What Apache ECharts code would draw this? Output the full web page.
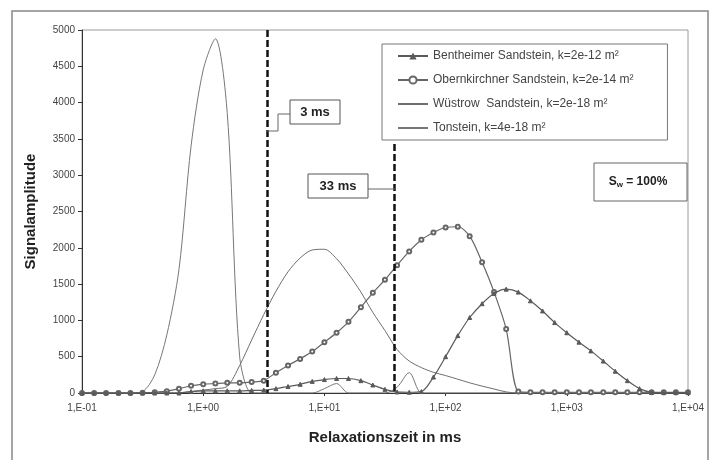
<!DOCTYPE html>
<html>
<head>
<meta charset="utf-8">
<script src="https://cdn.jsdelivr.net/npm/echarts@6/dist/echarts.min.js"></script>
<style>
  html, body { margin: 0; padding: 0; background: #fff; }
  #chart { width: 715px; height: 460px; }
</style>
</head>
<body>
<div id="chart"></div>
<script>
// Relaxationszeit (ms), 10 Punkte pro Dekade
var t2 = [
  0.1, 0.126, 0.158, 0.2, 0.251, 0.316, 0.398, 0.501, 0.631, 0.794,
  1, 1.26, 1.58, 2, 2.51, 3.16, 3.98, 5.01, 6.31, 7.94,
  10, 12.6, 15.8, 20, 25.1, 31.6, 39.8, 50.1, 63.1, 79.4,
  100, 126, 158, 200, 251, 316, 398, 501, 631, 794,
  1000, 1260, 1580, 2000, 2510, 3160, 3980, 5010, 6310, 7940,
  10000
];

var bentheimer = [
  0, 0, 0, 0, 0, 0, 0, 0, 0, 20,
  30, 30, 30, 30, 35, 40, 60, 90, 120, 160,
  185, 200, 200, 170, 110, 50, 15, 10, 20, 220,
  500, 790, 1040, 1230, 1370, 1430, 1390, 1270, 1130, 970,
  830, 700, 580, 440, 300, 170, 60, 10, 5, 5,
  5
];

var obernkirchner = [
  0, 0, 0, 0, 0, 5, 10, 25, 60, 100,
  120, 130, 140, 140, 150, 170, 280, 380, 470, 570,
  700, 830, 980, 1180, 1380, 1560, 1760, 1950, 2110, 2210,
  2280, 2290, 2160, 1800, 1390, 880, 20, 10, 10, 10,
  10, 10, 10, 10, 10, 10, 10, 10, 10, 10,
  10
];

var wuestrow = [
  0, 0, 0, 0, 0, 0, 0, 0, 0, 20,
  40, 60, 90, 380, 730, 1080, 1400, 1670, 1860, 1970,
  1980, 1850, 1640, 1390, 1110, 860, 600, 440, 350, 285,
  240, 190, 140, 95, 55, 15, 0, 0, 0, 0,
  0, 0, 0, 0, 0, 0, 0, 0, 0, 0,
  0
];

var tonstein = [
  0, 0, 0, 0, 0, 20, 250, 800, 1700, 3400,
  4450, 4880, 3850, 500, 0, 0, 0, 0, 0, 0,
  60, 130, 0, 0, 0, 0, 80, 280, 0, 0,
  0, 0, 0, 0, 0, 0, 0, 0, 0, 0,
  0, 0, 0, 0, 0, 0, 0, 0, 0, 0,
  0
];

var seriesNames = [
  'Bentheimer Sandstein, k=2e-12 m²',
  'Obernkirchner Sandstein, k=2e-14 m²',
  'Wüstrow  Sandstein, k=2e-18 m²',
  'Tonstein, k=4e-18 m²'
];

var xTickLabels = ['1,E-01', '1,E+00', '1,E+01', '1,E+02', '1,E+03', '1,E+04'];

// Lage der gestrichelten Linien (ms) und ihr oberes Ende (Signal)
var markTimes = [3.4, 38];
var markTops = [5000, 3430];

var FONT = 'Liberation Sans, Arial, sans-serif';

function pairs(arr) {
  return t2.map(function(t, i) { return [t, arr[i]]; });
}

var chart = echarts.init(document.getElementById('chart'), null, { renderer: 'canvas' });

var option = {
  animation: false,
  backgroundColor: '#fff',
  textStyle: { fontFamily: FONT },
  grid: {
    left: 82, right: 27, top: 30, bottom: 67,
    show: true, borderColor: '#9a9a9a', borderWidth: 1
  },
  legend: {
    orient: 'vertical',
    left: 382, top: 44,
    padding: [6, 34, 6, 15],
    itemGap: 12,
    itemWidth: 30, itemHeight: 9,
    borderColor: '#777', borderWidth: 1,
    backgroundColor: '#fff',
    textStyle: { fontSize: 12, color: '#444', fontFamily: FONT },
    data: [
      { name: seriesNames[0] },
      { name: seriesNames[1] },
      // nur Linie, kein Symbol
      { name: seriesNames[2], itemStyle: { opacity: 0 } },
      { name: seriesNames[3], itemStyle: { opacity: 0 } }
    ]
  },
  xAxis: {
    type: 'log',
    logBase: 10,
    min: 0.1, max: 10000,
    name: 'Relaxationszeit in ms',
    nameLocation: 'middle',
    nameGap: 37,
    nameTextStyle: { fontSize: 15, fontWeight: 'bold', color: '#222', fontFamily: FONT },
    axisLine: { lineStyle: { color: '#333', width: 1 } },
    axisTick: { show: true, length: 3, lineStyle: { color: '#333' } },
    splitLine: { show: false },
    axisLabel: {
      fontSize: 10, color: '#444', margin: 10,
      formatter: function(v) {
        return xTickLabels[Math.round(Math.log10(v)) + 1];
      }
    }
  },
  yAxis: {
    type: 'value',
    min: 0, max: 5000, interval: 500,
    name: 'Signalamplitude',
    nameLocation: 'middle',
    nameGap: 44,
    nameRotate: 90,
    nameTextStyle: { fontSize: 15, fontWeight: 'bold', color: '#222', fontFamily: FONT },
    axisLine: { show: true, lineStyle: { color: '#333', width: 1 } },
    axisTick: { show: true, length: 4, lineStyle: { color: '#333' } },
    splitLine: { show: false },
    axisLabel: {
      fontSize: 10, color: '#444', margin: 7,
      formatter: function(v) { return String(v); }
    }
  },
  series: [
    {
      name: seriesNames[0],
      type: 'line',
      data: pairs(bentheimer),
      smooth: 0.3,
      symbol: 'triangle',
      symbolSize: 4,
      showAllSymbol: true,
      lineStyle: { color: '#5a5a5a', width: 1.2 },
      itemStyle: { color: '#5a5a5a', borderColor: '#5a5a5a' },
      z: 4
    },
    {
      name: seriesNames[1],
      type: 'line',
      data: pairs(obernkirchner),
      smooth: 0.3,
      symbol: 'emptyCircle',
      symbolSize: 4,
      showAllSymbol: true,
      lineStyle: { color: '#666', width: 1.2 },
      itemStyle: { color: '#666', borderColor: '#666', borderWidth: 1 },
      z: 3
    },
    {
      name: seriesNames[2],
      type: 'line',
      data: pairs(wuestrow),
      smooth: 0.3,
      showSymbol: false,
      symbol: 'none',
      lineStyle: { color: '#6e6e6e', width: 1 },
      itemStyle: { color: '#6e6e6e' },
      z: 2
    },
    {
      name: seriesNames[3],
      type: 'line',
      data: pairs(tonstein),
      smooth: 0.3,
      showSymbol: false,
      symbol: 'none',
      lineStyle: { color: '#777', width: 1 },
      itemStyle: { color: '#777' },
      z: 2,
      markLine: {
        silent: true,
        symbol: 'none',
        label: { show: false },
        lineStyle: { color: '#111', width: 2.5, type: [7, 3] },
        data: markTimes.map(function(t, i) {
          return [{ coord: [t, markTops[i]] }, { coord: [t, 0] }];
        })
      }
    }
  ],
  graphic: [
    // Rahmen um die ganze Grafik
    {
      type: 'rect', silent: true, z: 0,
      shape: { x: 12, y: 11, width: 696, height: 470 },
      style: { fill: null, stroke: '#888', lineWidth: 1.5 }
    },
    // "3 ms" Beschriftung
    {
      type: 'polyline', silent: true, z: 10,
      shape: { points: [[290, 114], [278, 114], [278, 131], [267, 131]] },
      style: { fill: null, stroke: '#666', lineWidth: 1 }
    },
    {
      type: 'rect', silent: true, z: 10,
      shape: { x: 290, y: 100, width: 50, height: 24 },
      style: { fill: '#fff', stroke: '#555', lineWidth: 1 }
    },
    {
      type: 'text', silent: true, z: 11,
      x: 315, y: 112,
      style: { text: '3 ms', font: 'bold 13px ' + FONT, fill: '#222', align: 'center', verticalAlign: 'middle' }
    },
    // "33 ms" Beschriftung
    {
      type: 'line', silent: true, z: 10,
      shape: { x1: 368, y1: 189, x2: 395, y2: 189 },
      style: { stroke: '#666', lineWidth: 1 }
    },
    {
      type: 'rect', silent: true, z: 10,
      shape: { x: 308, y: 174, width: 60, height: 24 },
      style: { fill: '#fff', stroke: '#555', lineWidth: 1 }
    },
    {
      type: 'text', silent: true, z: 11,
      x: 338, y: 186,
      style: { text: '33 ms', font: 'bold 13px ' + FONT, fill: '#222', align: 'center', verticalAlign: 'middle' }
    },
    // Sättigung
    {
      type: 'rect', silent: true, z: 10,
      shape: { x: 594, y: 163, width: 93, height: 38 },
      style: { fill: '#fff', stroke: '#666', lineWidth: 1 }
    },
    {
      type: 'text', silent: true, z: 11,
      x: 638, y: 182,
      style: {
        text: '{a|S}{b|w}{a| = 100%}',
        align: 'center', verticalAlign: 'middle',
        rich: {
          a: { font: 'bold 12px ' + FONT, fill: '#222' },
          b: { font: 'bold 8px ' + FONT, fill: '#222', padding: [6, 0, 0, 0] }
        }
      }
    }
  ]
};

chart.setOption(option);
</script>
</body>
</html>
